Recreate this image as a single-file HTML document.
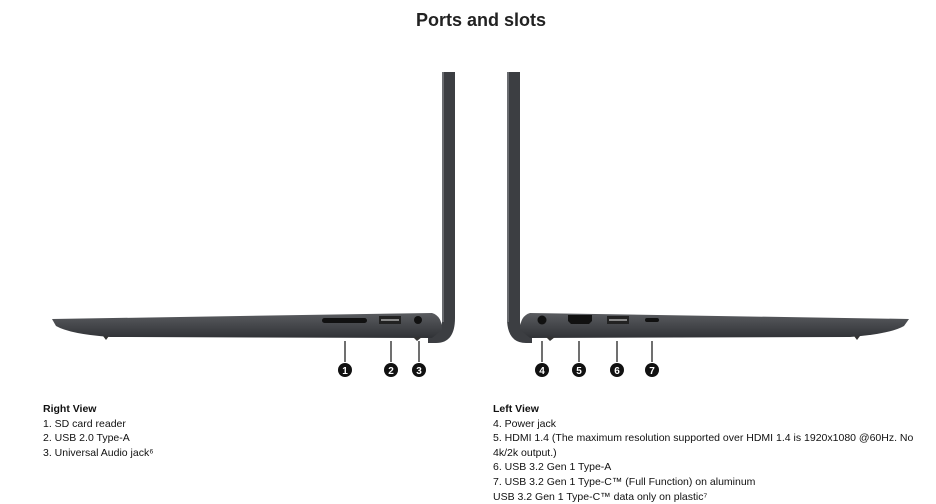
<!DOCTYPE html>
<html><head><style>
body{margin:0;width:936px;height:503px;background:#fff;font-family:"Liberation Sans",sans-serif;position:relative;overflow:hidden}
.t{position:absolute;top:10px;left:0;width:962px;text-align:center;font-weight:bold;font-size:18px;color:#222}
.l{position:absolute;font-size:10.5px;line-height:14.6px;color:#111}
.l b{font-weight:bold}
</style></head><body>
<div class="t">Ports and slots</div>
<svg width="936" height="503" style="position:absolute;left:0;top:0">
<defs><linearGradient id="g" x1="0" y1="0" x2="0" y2="1"><stop offset="0" stop-color="#5a5c60"/><stop offset="1" stop-color="#303236"/></linearGradient></defs>
<!-- left laptop -->
<path d="M455 72 L455 318 Q455 343 436 343 L428 343 L428 336 Q441 334 442 322 L442 72 Z" fill="#3c3e42"/>
<rect x="442" y="72" width="2" height="250" fill="#6a6c70"/>
<path d="M52 319 L432 313 Q442 316 442 330 L432 338 L110 337 Q70 334 56 326 Z" fill="url(#g)"/>
<rect x="322" y="318" width="45" height="5" rx="2.5" fill="#111"/>
<rect x="379" y="316" width="22" height="8" fill="#222"/><rect x="381" y="319" width="18" height="2" fill="#888"/>
<circle cx="418" cy="320" r="4" fill="#111"/>
<path d="M103 336 l3 4 l3 -4 Z M413 337 l4 4 l5 -4Z" fill="#333"/>
<g stroke="#222" stroke-width="1.3"><line x1="345" y1="341" x2="345" y2="362"/><line x1="391" y1="341" x2="391" y2="362"/><line x1="419" y1="341" x2="419" y2="362"/>
<line x1="542" y1="341" x2="542" y2="362"/><line x1="579" y1="341" x2="579" y2="362"/><line x1="617" y1="341" x2="617" y2="362"/><line x1="652" y1="341" x2="652" y2="362"/></g>
<!-- right laptop -->
<path d="M507 72 L507 318 Q507 343 526 343 L532 343 L532 336 Q521 334 520 322 L520 72 Z" fill="#3c3e42"/>
<rect x="507" y="72" width="2" height="250" fill="#6a6c70"/>
<path d="M909 319 L530 313 Q520 316 520 330 L530 338 L850 337 Q890 334 904 326 Z" fill="url(#g)"/>
<circle cx="542" cy="320" r="4.5" fill="#111"/>
<path d="M568 315 h24 v6 l-3 3 h-18 l-3 -3 Z" fill="#111"/>
<rect x="607" y="316" width="22" height="8" fill="#222"/><rect x="609" y="319" width="18" height="2" fill="#888"/>
<rect x="645" y="318" width="14" height="4" rx="2" fill="#111"/>
<path d="M854 336 l3 4 l3 -4 Z M546 337 l4 4 l5 -4Z" fill="#333"/>
<g font-family="Liberation Sans" font-weight="bold" font-size="10" fill="#fff" text-anchor="middle">
<circle cx="345" cy="370" r="7" fill="#111"/><text x="345" y="374">1</text>
<circle cx="391" cy="370" r="7" fill="#111"/><text x="391" y="374">2</text>
<circle cx="419" cy="370" r="7" fill="#111"/><text x="419" y="374">3</text>
<circle cx="542" cy="370" r="7" fill="#111"/><text x="542" y="374">4</text>
<circle cx="579" cy="370" r="7" fill="#111"/><text x="579" y="374">5</text>
<circle cx="617" cy="370" r="7" fill="#111"/><text x="617" y="374">6</text>
<circle cx="652" cy="370" r="7" fill="#111"/><text x="652" y="374">7</text>
</g>
</svg>
<div class="l" style="left:43px;top:402px"><b>Right View</b><br>1. SD card reader<br>2. USB 2.0 Type-A<br>3. Universal Audio jack⁶</div>
<div class="l" style="left:493px;top:402px;width:430px"><b>Left View</b><br>4. Power jack<br>5. HDMI 1.4 (The maximum resolution supported over HDMI 1.4 is 1920x1080 @60Hz. No 4k/2k output.)<br>6. USB 3.2 Gen 1 Type-A<br>7. USB 3.2 Gen 1 Type-C™ (Full Function) on aluminum<br>USB 3.2 Gen 1 Type-C™ data only on plastic⁷</div>
</body></html>
